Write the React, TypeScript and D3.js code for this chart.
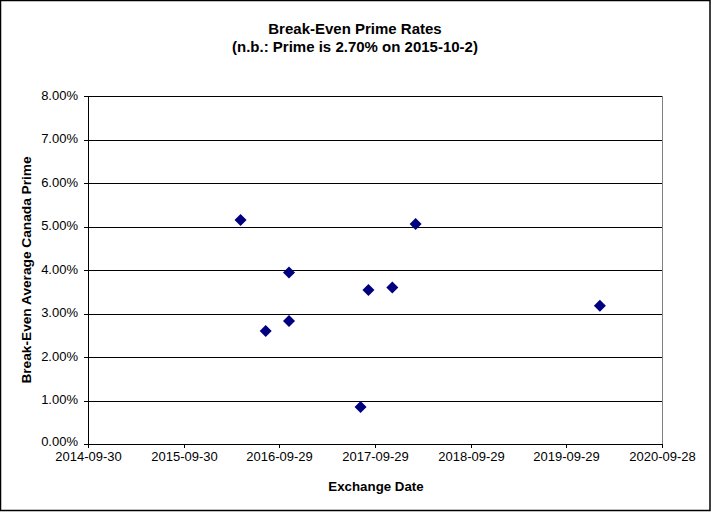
import React from "react";
import * as d3 from "d3";

const exchangeDates = [
  "2016-05-04",
  "2016-08-08",
  "2016-11-05",
  "2016-11-05",
  "2017-08-05",
  "2017-09-04",
  "2017-12-04",
  "2018-03-03",
  "2020-02-04",
];
const breakEvenRates = [5.15, 2.6, 3.94, 2.83, 0.85, 3.54, 3.6, 5.06, 3.18];
const xTickLabels = [
  "2014-09-30",
  "2015-09-30",
  "2016-09-29",
  "2017-09-29",
  "2018-09-29",
  "2019-09-29",
  "2020-09-28",
];
const yTicks = [0, 1, 2, 3, 4, 5, 6, 7, 8];

const W = 711;
const H = 513;
const M = { left: 88, right: 662, top: 96, bottom: 444 };
const FONT = "'Liberation Sans', Arial, sans-serif";

export default function App() {
  const parse = d3.utcParse("%Y-%m-%d");
  const x = d3
    .scaleUtc()
    .domain([parse(xTickLabels[0])!, parse(xTickLabels[xTickLabels.length - 1])!])
    .range([M.left, M.right]);
  const y = d3.scaleLinear().domain([0, 8]).range([M.bottom, M.top]);
  const diamond = d3.symbol().type(d3.symbolDiamond2).size(92)();
  const points = exchangeDates.map((d, i) => ({ date: parse(d)!, v: breakEvenRates[i] }));

  return (
    <svg
      width={W}
      height={H}
      style={{ position: "absolute", left: 0, top: 0, display: "block" }}
      fontFamily={FONT}
    >
      <rect x={0} y={0} width={W} height={H} fill="#fff" />
      <rect x={0.5} y={0.5} width={709.5} height={510} fill="none" stroke="#000" strokeWidth={1.5} />
      <text x={355} y={34} textAnchor="middle" fontSize={15} fontWeight="bold">
        Break-Even Prime Rates
      </text>
      <text x={355} y={52} textAnchor="middle" fontSize={15} fontWeight="bold">
        (n.b.: Prime is 2.70% on 2015-10-2)
      </text>
      {/* plot frame */}
      <rect
        x={M.left + 0.5}
        y={M.top + 0.5}
        width={M.right - M.left}
        height={M.bottom - M.top}
        fill="none"
        stroke="#808080"
        strokeWidth={1}
      />
      {/* gridlines */}
      {yTicks.slice(1).map((t) => (
        <line
          key={"g" + t}
          x1={M.left}
          x2={M.right}
          y1={Math.round(y(t)) + 0.5}
          y2={Math.round(y(t)) + 0.5}
          stroke="#000"
          strokeWidth={1}
        />
      ))}
      {/* y axis */}
      <line x1={M.left + 0.5} x2={M.left + 0.5} y1={M.top} y2={M.bottom} stroke="#000" />
      {yTicks.map((t) => (
        <g key={"y" + t}>
          <line
            x1={M.left - 4}
            x2={M.left}
            y1={Math.round(y(t)) + 0.5}
            y2={Math.round(y(t)) + 0.5}
            stroke="#000"
          />
          <text x={78} y={y(t) - (t === 0 ? 2 : 0)} dy="0.3em" textAnchor="end" fontSize={13}>
            {t.toFixed(2) + "%"}
          </text>
        </g>
      ))}
      {/* x axis */}
      <line x1={M.left} x2={M.right + 1} y1={M.bottom + 0.5} y2={M.bottom + 0.5} stroke="#000" />
      {xTickLabels.map((lab) => {
        const px = Math.round(x(parse(lab)!)) + 0.5;
        return (
          <g key={lab}>
            <line x1={px} x2={px} y1={M.bottom} y2={M.bottom + 4} stroke="#000" />
            <text x={px} y={M.bottom + 17} textAnchor="middle" fontSize={13}>
              {lab}
            </text>
          </g>
        );
      })}
      <text x={376} y={491} textAnchor="middle" fontSize={13.3} fontWeight="bold">
        Exchange Date
      </text>
      <text
        transform={`translate(31,${(M.top + M.bottom) / 2}) rotate(-90)`}
        textAnchor="middle"
        fontSize={13.7}
        fontWeight="bold"
      >
        Break-Even Average Canada Prime
      </text>
      {points.map((p, i) => (
        <path
          key={i}
          d={diamond!}
          transform={`translate(${x(p.date)},${y(p.v)})`}
          fill="#000080"
        />
      ))}
    </svg>
  );
}
